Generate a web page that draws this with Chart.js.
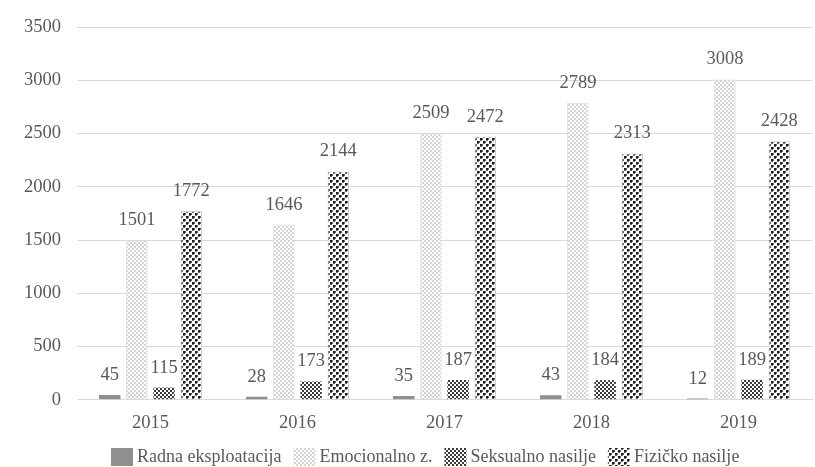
<!DOCTYPE html>
<html>
<head>
<meta charset="utf-8">
<script src="https://cdn.jsdelivr.net/npm/chart.js@4.4.1/dist/chart.umd.min.js"></script>
<style>
  html, body { margin: 0; padding: 0; background: #fff; }
  #wrap { width: 815px; height: 467px; }
</style>
</head>
<body>
<div id="wrap"><canvas id="chart" width="815" height="467"></canvas></div>
<script>
const years = ['2015', '2016', '2017', '2018', '2019'];
const radna = [45, 28, 35, 43, 12];
const emocionalno = [1501, 1646, 2509, 2789, 3008];
const seksualno = [115, 173, 187, 184, 189];
const fizicko = [1772, 2144, 2472, 2313, 2428];
const yTicks = [0, 500, 1000, 1500, 2000, 2500, 3000, 3500];

function makePattern(size, draw) {
    const c = document.createElement('canvas');
    c.width = size;
    c.height = size;
    const g = c.getContext('2d');
    draw(g);
    return g.createPattern(c, 'repeat');
}

// fine light checker
const lightChecker = makePattern(4, g => {
    g.fillStyle = '#ffffff';
    g.fillRect(0, 0, 4, 4);
    g.fillStyle = '#d4d4d4';
    g.fillRect(0, 0, 2, 2);
    g.fillRect(2, 2, 2, 2);
});

// fine dark checker
const darkChecker = makePattern(4, g => {
    g.fillStyle = '#ffffff';
    g.fillRect(0, 0, 4, 4);
    g.fillStyle = '#3a3a3a';
    g.fillRect(0, 0, 2, 2);
    g.fillRect(2, 2, 2, 2);
});

// offset dots
const dots = makePattern(6, g => {
    g.fillStyle = '#ffffff';
    g.fillRect(0, 0, 6, 6);
    g.fillStyle = '#1e1e1e';
    g.fillRect(0, 0, 2, 2);
    g.fillRect(3, 3, 2, 2);
    g.fillStyle = '#666';
    g.fillRect(2, 0, 1, 2);
    g.fillRect(0, 2, 2, 1);
    g.fillRect(5, 3, 1, 2);
    g.fillRect(3, 5, 2, 1);
});

const valueLabels = {
    id: 'valueLabels',
    afterDatasetsDraw(chart) {
        const ctx = chart.ctx;
        ctx.save();
        ctx.font = '18.5px "Liberation Serif"';
        ctx.fillStyle = '#595959';
        ctx.textAlign = 'center';
        ctx.textBaseline = 'alphabetic';
        chart.data.datasets.forEach((ds, i) => {
            chart.getDatasetMeta(i).data.forEach((bar, j) => {
                ctx.fillText(String(ds.data[j]), bar.x, bar.y - 15);
            });
        });
        ctx.restore();
    }
};

// legend drawn by hand so the box/text spacing follows the original
const bottomLegend = {
    id: 'bottomLegend',
    afterDraw(chart) {
        const ctx = chart.ctx;
        ctx.save();
        ctx.font = '18px "Liberation Serif"';
        ctx.textBaseline = 'middle';
        ctx.textAlign = 'left';
        let x = 111;
        const top = 448;
        chart.data.datasets.forEach(ds => {
            ctx.fillStyle = ds.backgroundColor;
            ctx.fillRect(x, top, 22, 18);
            x += 26;
            ctx.fillStyle = '#595959';
            ctx.fillText(ds.label, x, top + 9);
            x += ctx.measureText(ds.label).width + 12;
        });
        ctx.restore();
    }
};

const font = { family: '"Liberation Serif"', size: 18.5 };

new Chart(document.getElementById('chart').getContext('2d'), {
    type: 'bar',
    data: {
        labels: years,
        datasets: [
            { label: 'Radna eksploatacija', data: radna, backgroundColor: '#8f8f8f', borderWidth: 0 },
            { label: 'Emocionalno z.', data: emocionalno, backgroundColor: lightChecker, borderColor: '#d9d9d9', borderWidth: 1 },
            { label: 'Seksualno nasilje', data: seksualno, backgroundColor: darkChecker, borderWidth: 0 },
            { label: 'Fizičko nasilje', data: fizicko, backgroundColor: dots, borderColor: '#d0d0d0', borderWidth: 1 }
        ]
    },
    options: {
        responsive: false,
        animation: false,
        devicePixelRatio: 1,
        datasets: {
            bar: { categoryPercentage: 0.74, barPercentage: 0.79 }
        },
        layout: { padding: { top: 10, left: 8, right: 3, bottom: 29 } },
        scales: {
            x: {
                grid: { display: false },
                border: { color: '#d9d9d9', width: 1 },
                ticks: { color: '#595959', font: font, padding: 4 }
            },
            y: {
                min: 0,
                max: 3500,
                afterBuildTicks: axis => { axis.ticks = yTicks.map(v => ({ value: v })); },
                grid: { color: '#d9d9d9', drawTicks: false },
                border: { display: false },
                ticks: { color: '#595959', font: font, padding: 16, callback: v => String(v) }
            }
        },
        plugins: {
            legend: { display: false },
            tooltip: { enabled: false }
        }
    },
    plugins: [valueLabels, bottomLegend]
});
</script>
</body>
</html>
